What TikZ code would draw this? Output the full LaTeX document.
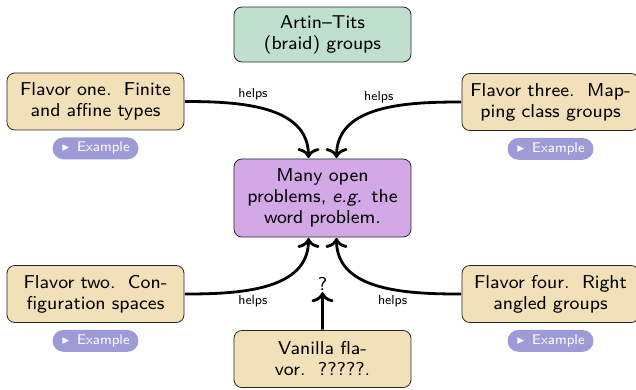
\documentclass[tikz,border=0pt]{standalone}
\usepackage{amssymb}
\usetikzlibrary{positioning,arrows.meta}

\definecolor{flavorfill}{HTML}{F2E0B9}
\definecolor{braidfill}{HTML}{C0E0CF}
\definecolor{problemfill}{HTML}{D2A9E6}
\definecolor{buttonfill}{HTML}{9E9AD8}

\begin{document}
\begin{tikzpicture}[line join=round, x=1pt, y=-1pt,
    font=\sffamily\fontsize{8}{9}\selectfont]
    \tikzset{
        box/.style={scale=2.33, draw=black!85, line width=0.8pt, rounded corners=8pt,
            minimum width=76pt, text width=72pt, align=center, inner sep=1pt},
        flavor/.style={box, fill=flavorfill, minimum height=24.5pt},
        braid/.style={box, fill=braidfill, minimum height=23.6pt},
        problem/.style={box, fill=problemfill, minimum height=33.5pt},
        example/.style={scale=2.33, fill=buttonfill, text=white, rounded corners=11pt,
            minimum width=36.9pt, minimum height=9.4pt, inner sep=0pt,
            font=\sffamily\fontsize{6}{7}\selectfont},
        helps/.style={scale=2.33, inner sep=1pt, font=\sffamily\fontsize{5.6}{6}\selectfont},
        ask/.style={scale=2.33, inner sep=0.5pt},
        link/.style={line width=2.8pt,
            -{Computer Modern Rightarrow[length=10pt, width=22pt]}}
    }
    \useasboundingbox (0,0) rectangle (636,389);

    % the boxes
    \node[braid] (artin) at (322.5,34.5) {Artin--Tits\\(braid) groups};
    \node[problem] (open) at (322.5,198) {Many open\\problems, \emph{e.g.} the\\word problem.};
    \node[flavor] (one) at (95.5,101.5) {Flavor one.\ \ Finite\\and affine types};
    \node[flavor] (two) at (95.5,294) {Flavor two.\ \ Con-\\figuration spaces};
    \node[flavor] (three) at (550.5,102) {Flavor three.\ \ Map-\\ping class groups};
    \node[flavor] (four) at (550.5,294) {Flavor four.\ \ Right\\angled groups};
    \node[flavor] (vanilla) at (322.5,359) {Vanilla fla-\\vor.\ \ ?????.};

    % example buttons
    \foreach \f in {one, two, three, four}{
        \node[example, below=6pt of \f] (\f ex)
            {\raisebox{0.5pt}{\scalebox{0.7}{$\blacktriangleright$}}\hspace{3pt}Example};
    }

    % arrows into the open problems
    \coordinate (inl) at ([xshift=-14pt]open.north);
    \coordinate (inr) at ([xshift=14pt]open.north);
    \coordinate (outl) at ([xshift=-14pt]open.south);
    \coordinate (outr) at ([xshift=14pt]open.south);
    \node[ask] (ask) at (322.5,284) {?};

    \draw[link] (one.east) to[out=0, in=90]
        node[helps, pos=0.41, above=1pt] {helps} (inl);
    \draw[link] (three.west) to[out=180, in=90]
        node[helps, pos=0.5, above=1pt] {helps} (inr);
    \draw[link] (two.east) to[out=0, in=-90]
        node[helps, pos=0.41, below=1pt] {helps} (outl);
    \draw[link] (four.west) to[out=180, in=-90]
        node[helps, pos=0.41, below=1pt] {helps} (outr);
    \draw[link] (vanilla) -- (ask);
\end{tikzpicture}
\end{document}
